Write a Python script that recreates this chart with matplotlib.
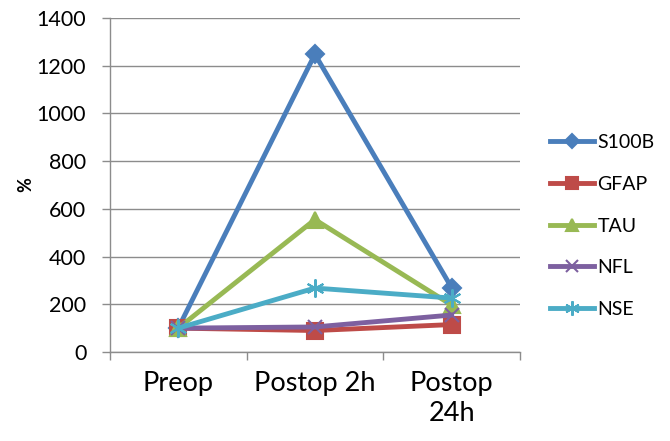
import matplotlib.pyplot as plt

plt.rcParams['font.family'] = ['Lato', 'DejaVu Sans']

categories = ['Preop', 'Postop 2h', 'Postop\n24h']
s100b = [100, 1248, 270]
gfap = [100, 90, 115]
tau = [100, 555, 197]
nfl = [100, 105, 155]
nse = [100, 268, 226]

series = [
    ('S100B', s100b, '#4A7EBB', 'D', 9),
    ('GFAP', gfap, '#BE4B48', 's', 11),
    ('TAU', tau, '#98B954', '^', 11),
    ('NFL', nfl, '#7D60A0', 'x', 10),
    ('NSE', nse, '#4BACC6', (6, 2, 0), 13),
]

fig = plt.figure(figsize=(6.7, 4.41), dpi=100)
ax = fig.add_axes([0.164, 0.2018, 0.612, 0.7574])

x = list(range(len(categories)))
for name, vals, col, mk, ms in series:
    ax.plot(x, vals, color=col, lw=3.5, marker=mk, markersize=ms,
            markeredgewidth=1.5, markeredgecolor=col, markerfacecolor=col,
            label=name, solid_joinstyle='round')

ax.set_xlim(-0.5, 2.5)
ax.set_ylim(0, 1400)
ax.set_yticks(range(0, 1401, 200))
ax.grid(axis='y', color='#8c8c8c', lw=1)
ax.set_axisbelow(True)

ax.set_xticks(x)
ax.set_xticklabels(categories, fontsize=19.5, linespacing=1.25)
ax.set_xticks([-0.5, 0.5, 1.5, 2.5], minor=True)
ax.tick_params(axis='x', which='major', length=0, pad=14)
ax.tick_params(axis='x', which='minor', length=6, color='#8c8c8c', width=1)
ax.tick_params(axis='y', labelsize=15.5, length=6, color='#8c8c8c', width=1, pad=11)

for s in ['top', 'right']:
    ax.spines[s].set_visible(False)
for s in ['left', 'bottom']:
    ax.spines[s].set_color('#8c8c8c')
    ax.spines[s].set_linewidth(1)

ax.set_ylabel('%', fontsize=13, fontweight='bold', labelpad=2)

ax.legend(loc='center left', bbox_to_anchor=(1.03, 0.377), frameon=False,
          fontsize=14, handlelength=2.3, labelspacing=1.27, handletextpad=0.15,
          markerscale=0.8)

fig.savefig('out.png', dpi=100)
